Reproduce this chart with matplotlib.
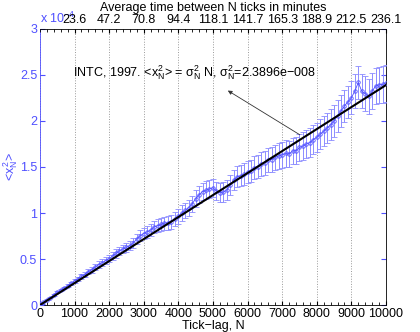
import matplotlib
matplotlib.use("Agg")
import matplotlib.pyplot as plt
import numpy as np
from matplotlib.ticker import MultipleLocator

plt.rcParams['font.family'] = ['Liberation Sans', 'DejaVu Sans']
plt.rcParams['mathtext.fontset'] = 'custom'
plt.rcParams['mathtext.rm'] = 'Liberation Sans'
plt.rcParams['mathtext.it'] = 'Liberation Sans'

# tick lag N and measured <x_N^2> (units of 1e-4)
lags = [10, 50] + [100 * k for k in range(1, 101)]
msd = [0.003, 0.014,
       0.034, 0.058, 0.082, 0.111, 0.139, 0.163, 0.187, 0.211, 0.235, 0.264,
       0.283, 0.312, 0.331, 0.365, 0.383, 0.412, 0.441, 0.460, 0.484, 0.503,
       0.532, 0.561, 0.590, 0.609, 0.627, 0.646, 0.675, 0.719, 0.753, 0.777,
       0.796, 0.815, 0.849, 0.862, 0.876, 0.890, 0.894, 0.908, 0.937, 0.966,
       1.000, 1.029, 1.058, 1.101, 1.155, 1.199, 1.233, 1.247, 1.261, 1.275,
       1.239, 1.223, 1.226, 1.250, 1.304, 1.358, 1.392, 1.406, 1.420, 1.444,
       1.458, 1.492, 1.505, 1.534, 1.543, 1.577, 1.581, 1.605, 1.619, 1.633,
       1.647, 1.641, 1.674, 1.678, 1.712, 1.726, 1.750, 1.764, 1.798, 1.822,
       1.856, 1.889, 1.923, 1.957, 2.001, 2.055, 2.109, 2.163, 2.207, 2.251,
       2.325, 2.418, 2.322, 2.296, 2.270, 2.324, 2.378, 2.392, 2.396, 2.410]
err = [0.001, 0.002,
       0.003, 0.005, 0.006, 0.008, 0.010, 0.012, 0.014, 0.016, 0.018, 0.020,
       0.022, 0.024, 0.026, 0.028, 0.030, 0.032, 0.034, 0.036, 0.038, 0.040,
       0.042, 0.044, 0.046, 0.048, 0.050, 0.052, 0.054, 0.056, 0.058, 0.060,
       0.062, 0.064, 0.066, 0.068, 0.070, 0.072, 0.074, 0.076, 0.078, 0.080,
       0.082, 0.084, 0.086, 0.088, 0.090, 0.092, 0.094, 0.096, 0.098, 0.100,
       0.102, 0.104, 0.106, 0.108, 0.110, 0.112, 0.114, 0.116, 0.118, 0.120,
       0.122, 0.124, 0.126, 0.128, 0.130, 0.132, 0.134, 0.136, 0.138, 0.140,
       0.142, 0.144, 0.146, 0.148, 0.150, 0.152, 0.154, 0.156, 0.158, 0.160,
       0.162, 0.164, 0.166, 0.168, 0.170, 0.172, 0.174, 0.176, 0.178, 0.180,
       0.182, 0.184, 0.186, 0.188, 0.190, 0.192, 0.194, 0.196, 0.198, 0.200]

sigma2 = 2.3896e-8
fit_lags = [0, 10000]
top_labels = ["23.6", "47.2", "70.8", "94.4", "118.1", "141.7",
              "165.3", "188.9", "212.5", "236.1"]

blue = "#4f4fff"
fs = 9

fig = plt.figure(figsize=(4.2, 3.32), dpi=100)
ax = fig.add_axes([0.095, 0.081, 0.824, 0.832])

ax.errorbar(lags, msd, yerr=err, fmt='-o', color=blue, ecolor="#8c8cff",
            elinewidth=0.7, capsize=2.5, capthick=0.7, lw=0.6,
            markersize=2.5, markerfacecolor='none', markeredgewidth=0.6, zorder=3)
fit_vals = [sigma2 * n / 1e-4 for n in fit_lags]
ax.plot(fit_lags, fit_vals, color='black', lw=1.5, zorder=4)

ax.set_xlim(0, 10000)
ax.set_ylim(0, 3)
ax.xaxis.set_major_locator(MultipleLocator(1000))
ax.xaxis.set_minor_locator(MultipleLocator(200))
ax.set_yticks(np.arange(0, 3.01, 0.5))
ax.set_yticklabels(["0", "0.5", "1", "1.5", "2", "2.5", "3"])
ax.tick_params(which='both', direction='in', labelsize=fs, right=True, pad=2)
ax.tick_params(axis='y', colors=blue, labelcolor=blue)
ax.tick_params(axis='x', which='major', length=3)
ax.tick_params(axis='x', which='minor', length=2)
ax.spines['left'].set_color(blue)
for s in ['right', 'top', 'bottom']:
    ax.spines[s].set_color('black')
    ax.spines[s].set_linewidth(0.6)
ax.spines['left'].set_linewidth(0.6)
ax.grid(axis='x', which='major', linestyle=':', color='#999999', lw=0.7)

ax.set_xlabel("Tick\u2212lag, N", fontsize=fs, labelpad=0)
ax.set_ylabel("<$x_N^2$>", fontsize=fs, color=blue, labelpad=0)
ax.text(0.0, 1.01, "x 10$^{-4}$", transform=ax.transAxes, color=blue,
        fontsize=fs, ha='left', va='bottom')

top = ax.twiny()
top.set_xlim(0, 10000)
top.set_xticks(range(1000, 10001, 1000))
top.set_xticklabels(top_labels)
top.xaxis.set_minor_locator(MultipleLocator(200))
top.tick_params(which='both', direction='in', labelsize=fs, pad=2)
top.tick_params(which='major', length=3)
top.tick_params(which='minor', length=2)
top.set_xlabel("Average time between N ticks in minutes", fontsize=fs, labelpad=2)
for s in top.spines.values():
    s.set_visible(False)

ax.text(950, 2.52, "INTC, 1997. <$x_N^2$> = $\\sigma_N^2$ N, $\\sigma_N^2$=2.3896e\u2212008",
        fontsize=fs, ha='left', va='center')
ax.annotate("", xy=(5430, 2.33), xytext=(7510, 1.85),
            arrowprops=dict(arrowstyle='-|>', color='#333333', lw=0.6,
                            mutation_scale=6, shrinkA=0, shrinkB=0))

fig.savefig("out.png", dpi=100)
